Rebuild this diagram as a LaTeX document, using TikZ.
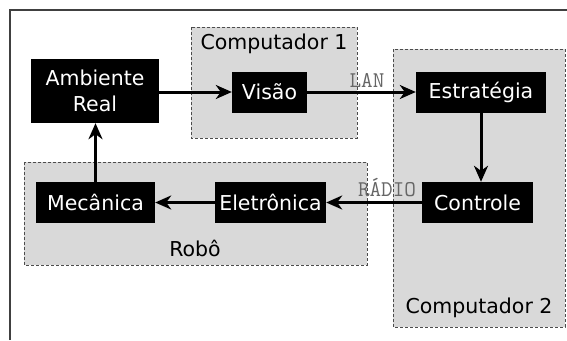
\documentclass[tikz,border=0pt]{standalone}
\usepackage{fontspec}
\setmainfont{DejaVu Sans}
\usetikzlibrary{arrows.meta}
\definecolor{cinza}{gray}{0.85}
\begin{document}
\begin{tikzpicture}[x=1pt, y=-1pt, font=\fontsize{20.5}{26}\selectfont,
    bloco/.style={fill=black, text=white, inner sep=0pt, align=center, minimum height=41},
    grupo/.style={draw=black!70, line width=1, dash pattern=on 3 off 2, fill=cinza},
    seta/.style={line width=3, -{Stealth[length=16, width=14, inset=5]}},
    rede/.style={font=\fontsize{22.5}{22}\ttfamily, text=black!60, anchor=base}]
    \useasboundingbox (0,0) rectangle (567,340);
    \draw[line width=2, black!75] (10,340) -- (10,10) -- (567,10);
    % grupos
    \filldraw[grupo] (191,27) rectangle (357,138);
    \filldraw[grupo] (393,49) rectangle (565,327);
    \filldraw[grupo] (24,162) rectangle (367,265);
    \node[anchor=base] (comp1) at (274,49) {Computador 1};
    \node[anchor=base] (comp2) at (479,313) {Computador 2};
    \node[anchor=base] (robo) at (195,256) {Robô};
    % blocos
    \node[bloco, minimum width=128, minimum height=64] (amb) at (95,91) {Ambiente\\Real};
    \node[bloco, minimum width=75] (vis) at (269.5,92) {Visão};
    \node[bloco, minimum width=130] (est) at (481,92) {Estratégia};
    \node[bloco, minimum width=111] (ctrl) at (477.5,202.5) {Controle};
    \node[bloco, minimum width=111] (ele) at (270.5,202.5) {Eletrônica};
    \node[bloco, minimum width=119] (mec) at (95.5,202.5) {Mecânica};
    % setas
    \draw[seta] (amb.east |- vis) -- (vis);
    \draw[seta] (vis) -- (est);
    \node[rede] (lan) at (367,87) {LAN};
    \draw[seta] (est.south) -- (est.south |- ctrl.north);
    \draw[seta] (ctrl) -- (ele);
    \node[rede] (radio) at (387,196) {RÁDIO};
    \draw[seta] (ele) -- (mec);
    \draw[seta] (mec.north) -- (mec.north |- amb.south);
\end{tikzpicture}
\end{document}
